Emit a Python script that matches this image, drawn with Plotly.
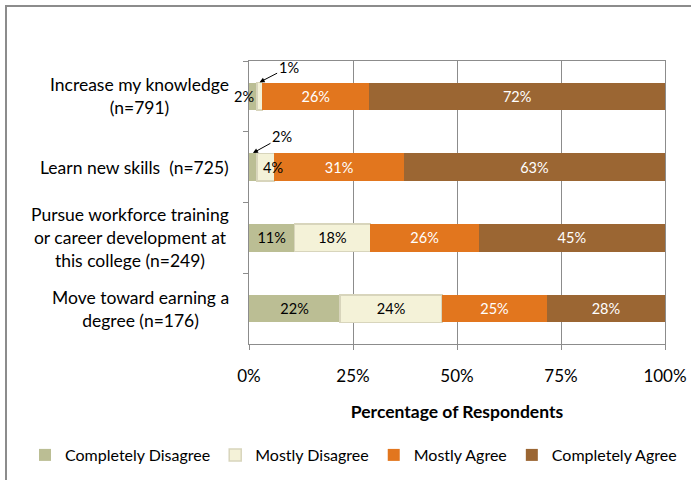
import plotly.graph_objects as go

categories = ["Increase my knowledge<br>(n=791)",
              "Learn new skills  (n=725)",
              "Pursue workforce training<br>or career development at<br>this college (n=249)",
              "Move toward earning a<br>degree (n=176)"]
series = ["Completely Disagree", "Mostly Disagree", "Mostly Agree", "Completely Agree"]
completely_disagree = [1.9, 1.9, 10.9, 21.9]
mostly_disagree = [1.3, 4.2, 18.3, 24.5]
mostly_agree = [25.7, 31.1, 26.0, 25.2]
completely_agree = [71.1, 62.8, 44.8, 28.4]
label_cd = ["2%", "2%", "11%", "22%"]
label_md = ["1%", "4%", "18%", "24%"]
label_ma = ["26%", "31%", "26%", "25%"]
label_ca = ["72%", "63%", "45%", "28%"]
x_ticks = [0, 25, 50, 75, 100]
x_tick_labels = ["0%", "25%", "50%", "75%", "100%"]

FONT = "Lato"
colors = ["#bbbe94", "#f4f2d8", "#e2761e", "#9b6633"]
txtcol = ["#000000", "#000000", "#ffffff", "#ffffff"]
lines = [0, 1.5, 0, 0]
linecol = ["#bbbe94", "#d8d5bc", "#e2761e", "#9b6633"]

idx = list(range(len(categories)))
vals = [completely_disagree, mostly_disagree, mostly_agree, completely_agree]
labs = [label_cd, label_md, label_ma, label_ca]
inside_labs = [list(l) for l in labs]
inside_labs[0][0] = ""
inside_labs[0][1] = ""
inside_labs[1][0] = ""
inside_labs[1][1] = ""

fig = go.Figure()
for s, v, t, c, tc, lw, lc in zip(series, vals, inside_labs, colors, txtcol, lines, linecol):
    fig.add_trace(go.Bar(
        y=idx, x=v, name=s, orientation="h",
        marker=dict(color=c, line=dict(color=lc, width=lw)),
        text=t, textposition="inside", insidetextanchor="middle", textangle=0,
        constraintext="none", cliponaxis=False,
        textfont=dict(family=FONT, size=14.5, color=tc),
        hoverinfo="skip",
    ))

annos = []
for i, c in enumerate(categories):
    annos.append(dict(x=0, y=i, xref="paper", yref="y", text=c, showarrow=False,
                      xanchor="right", align="center", xshift=-18,
                      font=dict(family=FONT, size=17.5, color="#000")))
annos.append(dict(x=0, y=0, xref="x", yref="y", text=label_cd[0], showarrow=False,
                  xanchor="right", xshift=7, font=dict(family=FONT, size=14.5, color="#000")))
# "4%" label of row 2, slightly right of its narrow segment
annos.append(dict(x=completely_disagree[1] + mostly_disagree[1] / 2, y=1, xref="x", yref="y",
                  text=label_md[1], showarrow=False, xanchor="center", xshift=7,
                  font=dict(family=FONT, size=14.5, color="#000")))
annos.append(dict(x=completely_disagree[0] + mostly_disagree[0] / 2, y=0 - 0.2, xref="x", yref="y",
                  text=label_md[0], showarrow=True, ax=29, ay=-15, arrowhead=2, arrowsize=1,
                  arrowwidth=1, arrowcolor="#000", font=dict(family=FONT, size=14.5, color="#000")))
annos.append(dict(x=completely_disagree[1] / 2, y=1 - 0.2, xref="x", yref="y",
                  text=label_cd[1], showarrow=True, ax=29, ay=-16, arrowhead=2, arrowsize=1,
                  arrowwidth=1, arrowcolor="#000", font=dict(family=FONT, size=14.5, color="#000")))

W, H = 691, 480
L, R, T, B = 249, 26, 61, 136
PW, PH = W - L - R, H - T - B
fig.update_layout(
    barmode="stack", bargap=0.61,
    width=W, height=H,
    margin=dict(l=L, r=R, t=T, b=B, autoexpand=False),
    paper_bgcolor="white", plot_bgcolor="white",
    font=dict(family=FONT, size=16, color="#000"),
    showlegend=True,
    legend=dict(orientation="h", xref="paper", yref="paper", x=(25 - L) / PW, xanchor="left",
                y=-(455 - (T + PH)) / PH, yanchor="middle", itemwidth=30,
                font=dict(family=FONT, size=16, color="#000"), traceorder="normal"),
    annotations=annos,
    shapes=[dict(type="rect", xref="paper", yref="paper", x0=(6 - L) / PW, x1=1.3, y0=-0.7,
                 y1=1 + (T - 6) / PH,
                 line=dict(color="#8c8c8c", width=2), fillcolor="rgba(0,0,0,0)", layer="below")],
)
fig.update_xaxes(range=[0, 100], tickvals=x_ticks, ticktext=x_tick_labels,
                 showgrid=True, gridcolor="#8c8c8c", gridwidth=1,
                 showline=True, linecolor="#8c8c8c", linewidth=1, mirror=True,
                 ticks="outside", ticklen=5, tickcolor="#8c8c8c", ticklabelstandoff=12,
                 tickfont=dict(family=FONT, size=17, color="#000"), zeroline=False,
                 title=dict(text="<b>Percentage of Respondents</b>", font=dict(family=FONT, size=17.5, color="#000"), standoff=20))
fig.update_yaxes(type="category", range=[3.5, -0.5], tickson="boundaries", ticks="outside",
                 ticklen=5, tickcolor="#8c8c8c", showticklabels=False, showgrid=False,
                 showline=True, linecolor="#8c8c8c", linewidth=1, mirror=True)

fig.write_html("out.html", config={"displayModeBar": False},
               post_script="document.body.style.margin='0';document.body.style.overflow='hidden';")
